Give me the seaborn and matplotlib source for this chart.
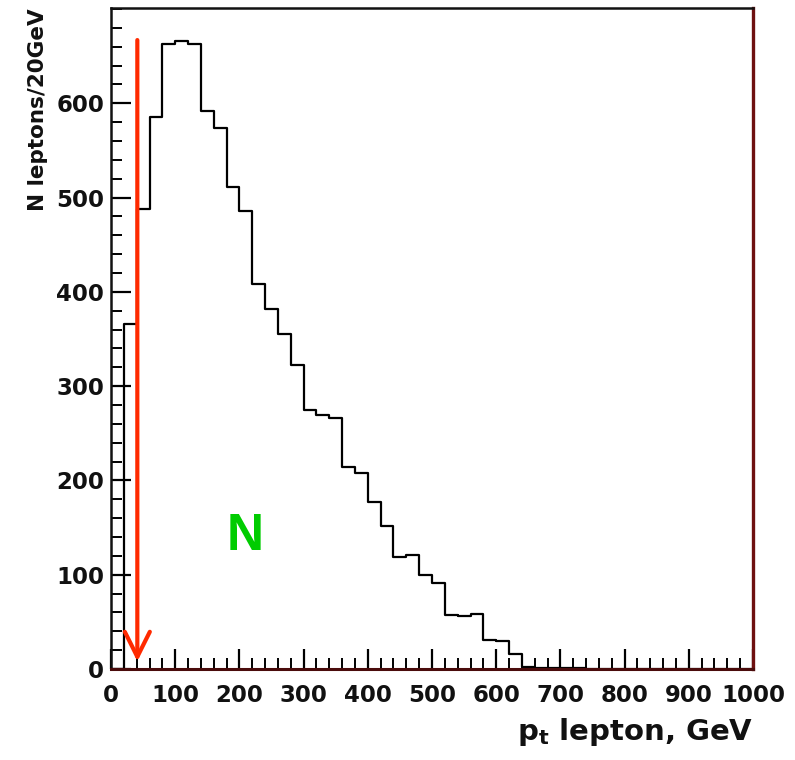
import numpy as np
import matplotlib
matplotlib.use("Agg")
import matplotlib.pyplot as plt
import seaborn as sns

# Data: 20 GeV bins from 0 to 1000 GeV
bin_edges = list(range(0, 1001, 20))
counts = [0, 366, 488, 585, 663, 666, 663, 592, 574, 511,
          486, 408, 382, 355, 322, 275, 269, 266, 214, 208,
          177, 152, 119, 121, 100, 91, 57, 56, 58, 31,
          30, 16, 2.5, 1.5, 1, 1, 1, 0.5, 0, 0,
          0, 0, 0, 0, 0, 0, 0, 0, 0, 0]
bin_centers = [e + 10 for e in bin_edges[:-1]]

x_ticks = [0, 100, 200, 300, 400, 500, 600, 700, 800, 900, 1000]
y_ticks = [0, 100, 200, 300, 400, 500, 600]
cut_value = 41
arrow_top = 667
arrow_tip = 8
label_text = "N"
label_pos = (209.5, 126)

sns.set_style("ticks")
plt.rcParams['font.family'] = ['DejaVu Sans']

fig = plt.figure(figsize=(7.95, 7.6), dpi=100)
ax = fig.add_axes([111 / 795, 1 - 669 / 760, (753 - 111) / 795, (669 - 8) / 760])

sns.histplot(x=bin_centers, weights=counts, bins=bin_edges, element="step",
             fill=False, color="black", linewidth=1.6, ax=ax)

ax.set_xlim(0, 1000)
ax.set_ylim(0, 701)

ax.set_xticks(x_ticks)
ax.set_yticks(y_ticks)
ax.set_xticks(np.arange(0, 1001, 20), minor=True)
ax.set_yticks(np.arange(0, 701, 20), minor=True)
ax.tick_params(axis="both", which="both", direction="in", top=False, right=False,
               color="black")
ax.tick_params(axis="both", which="major", length=14.5, width=1.6)
ax.tick_params(axis="both", which="minor", length=8, width=1.4)
ax.tick_params(axis="x", which="major", pad=11)
ax.tick_params(axis="y", which="major", pad=5)
for lab in ax.get_xticklabels() + ax.get_yticklabels():
    lab.set_fontweight("bold")
    lab.set_fontsize(16.5)
    lab.set_color("#111111")

for side in ["left", "top"]:
    ax.spines[side].set_color("#111111")
    ax.spines[side].set_linewidth(1.8)
ax.spines["bottom"].set_color("#4a0c0c")
ax.spines["bottom"].set_linewidth(2.2)
ax.spines["right"].set_color("#6e1010")
ax.spines["right"].set_linewidth(2.4)
for s in ax.spines.values():
    s.set_visible(True)

ax.set_xlabel(r"$\mathbf{p_{t}}$ lepton, GeV", fontsize=21, fontweight="bold",
              loc="right", labelpad=6, color="#111111")
ax.set_ylabel("N leptons/20GeV", fontsize=15.5, fontweight="bold", loc="top",
              labelpad=6, color="#111111")

# red cut arrow
ax.annotate("", xy=(cut_value, arrow_tip), xytext=(cut_value, arrow_top),
            arrowprops=dict(arrowstyle="->,head_length=0.9,head_width=0.45",
                            color="#ff2a00", lw=3, mutation_scale=20,
                            shrinkA=0, shrinkB=0))

ax.text(label_pos[0], label_pos[1], label_text, color="#00cc00", fontsize=37,
        fontweight="bold", family="Liberation Sans", ha="center", va="baseline")

fig.savefig("out.png", dpi=100, facecolor="white")
